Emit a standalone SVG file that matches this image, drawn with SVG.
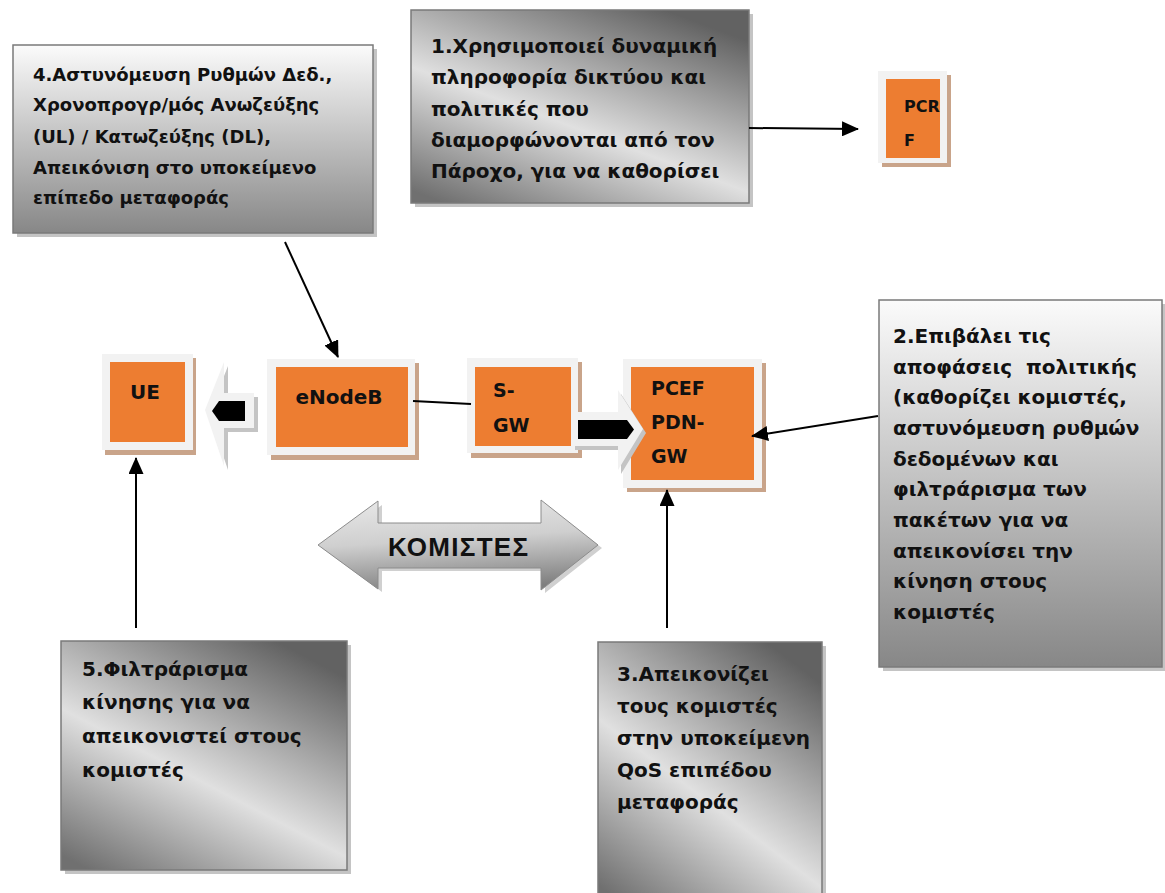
<svg xmlns="http://www.w3.org/2000/svg" width="1165" height="893" viewBox="0 0 1165 893">
  <defs>
    <style>
      .note { font-family: "DejaVu Sans", "Liberation Sans", sans-serif; font-weight: bold; fill: #111; }
      .n20 { font-size: 20px; }
      .n18 { font-size: 18px; }
      .box-border { stroke: #7a7a7a; stroke-width: 1.5; }
      .box-shadow { fill: #c4c4c4; }
      .frame { fill: #f2f2f2; }
      .frame-shadow { fill: #c9a48a; }
      .core { fill: #ed7d31; }
      .label { font-family: "DejaVu Sans", "Liberation Sans", sans-serif; font-weight: bold; fill: #111; }
      .conn { stroke: #000; stroke-width: 2; fill: none; }
      .arrowed { marker-end: url(#head); }
    </style>
    <marker id="head" markerUnits="userSpaceOnUse" markerWidth="17" markerHeight="15" refX="16" refY="7.5" orient="auto">
      <path d="M0,0 L17,7.5 L0,15 z" fill="#000"/>
    </marker>
    <!-- top light, bottom dark -->
    <linearGradient id="gVert" x1="0" y1="0" x2="0" y2="1">
      <stop offset="0" stop-color="#fbfbfb"/>
      <stop offset="1" stop-color="#878787"/>
    </linearGradient>
    <!-- light band running diagonally, dark corners bottom-left and top-right -->
    <linearGradient id="gDiag" x1="0.1" y1="1" x2="0.75" y2="0">
      <stop offset="0" stop-color="#707070"/>
      <stop offset="0.45" stop-color="#e0e0e0"/>
      <stop offset="1" stop-color="#626262"/>
    </linearGradient>
    <linearGradient id="gBar" x1="0.3" y1="0" x2="0.5" y2="1">
      <stop offset="0" stop-color="#e6e6e6"/>
      <stop offset="0.45" stop-color="#cfcfcf"/>
      <stop offset="1" stop-color="#7f7f7f"/>
    </linearGradient>
  </defs>

  <rect width="1165" height="893" fill="#fff"/>

  <!-- Note 4 -->
  <g id="note4">
    <rect class="box-shadow" x="17" y="49" width="360" height="188"/>
    <rect class="box-border" x="13" y="45" width="360" height="188" fill="url(#gVert)"/>
    <text class="note n18" x="33" y="81">4.Αστυνόμευση Ρυθμών Δεδ.,</text>
    <text class="note n18" x="33" y="111">Χρονοπρογρ/μός Ανωζεύξης</text>
    <text class="note n18" x="33" y="143">(UL) / Κατωζεύξης (DL),</text>
    <text class="note n18" x="33" y="174">Απεικόνιση στο υποκείμενο</text>
    <text class="note n18" x="33" y="204">επίπεδο μεταφοράς</text>
  </g>

  <!-- Note 1 -->
  <g id="note1">
    <rect class="box-shadow" x="415" y="14" width="338" height="193"/>
    <rect class="box-border" x="411" y="10" width="338" height="193" fill="url(#gDiag)"/>
    <text class="note n20" x="431" y="53">1.Χρησιμοποιεί δυναμική</text>
    <text class="note n20" x="431" y="84">πληροφορία δικτύου και</text>
    <text class="note n20" x="431" y="116">πολιτικές που</text>
    <text class="note n20" x="431" y="147">διαμορφώνονται από τον</text>
    <text class="note n20" x="431" y="178">Πάροχο, για να καθορίσει</text>
  </g>

  <!-- Note 2 -->
  <g id="note2">
    <rect class="box-shadow" x="883" y="304" width="283" height="367"/>
    <rect class="box-border" x="879" y="300" width="283" height="367" fill="url(#gVert)"/>
    <text class="note n20" x="893" y="343">2.Επιβάλει τις</text>
    <text class="note n20" x="893" y="374" xml:space="preserve">αποφάσεις  πολιτικής</text>
    <text class="note n20" x="893" y="404">(καθορίζει κομιστές,</text>
    <text class="note n20" x="893" y="435">αστυνόμευση ρυθμών</text>
    <text class="note n20" x="893" y="466">δεδομένων και</text>
    <text class="note n20" x="893" y="496">φιλτράρισμα των</text>
    <text class="note n20" x="893" y="527">πακέτων για να</text>
    <text class="note n20" x="893" y="558">απεικονίσει την</text>
    <text class="note n20" x="893" y="588">κίνηση στους</text>
    <text class="note n20" x="893" y="619">κομιστές</text>
  </g>

  <!-- Note 5 -->
  <g id="note5">
    <rect class="box-shadow" x="65" y="645" width="286" height="229"/>
    <rect class="box-border" x="61" y="641" width="286" height="229" fill="url(#gDiag)"/>
    <text class="note n20" x="82" y="676">5.Φιλτράρισμα</text>
    <text class="note n20" x="82" y="709">κίνησης για να</text>
    <text class="note n20" x="82" y="743">απεικονιστεί στους</text>
    <text class="note n20" x="82" y="777">κομιστές</text>
  </g>

  <!-- Note 3 -->
  <g id="note3">
    <rect class="box-shadow" x="602" y="646" width="224" height="260"/>
    <rect class="box-border" x="598" y="642" width="224" height="260" fill="url(#gDiag)"/>
    <text class="note n20" x="617" y="681">3.Απεικονίζει</text>
    <text class="note n20" x="617" y="713">τους κομιστές</text>
    <text class="note n20" x="617" y="745">στην υποκείμενη</text>
    <text class="note n20" x="617" y="777">QoS επιπέδου</text>
    <text class="note n20" x="617" y="809">μεταφοράς</text>
  </g>

  <!-- PCRF -->
  <g id="pcrf">
    <rect class="frame-shadow" x="882" y="75" width="69" height="92"/>
    <rect class="frame" x="878" y="71" width="69" height="92"/>
    <rect class="core" x="886" y="79" width="54" height="79"/>
    <text class="label" x="904" y="112" font-size="16">PCR</text>
    <text class="label" x="904" y="146" font-size="16">F</text>
  </g>

  <!-- UE -->
  <g id="ue">
    <rect class="frame-shadow" x="105" y="358" width="91" height="97"/>
    <rect class="frame" x="102" y="354" width="91" height="96"/>
    <rect class="core" x="110" y="362" width="75" height="80"/>
    <text class="label" x="145" y="399" font-size="20" text-anchor="middle">UE</text>
  </g>

  <!-- eNodeB -->
  <g id="enodeb">
    <rect class="frame-shadow" x="271" y="363" width="148" height="97"/>
    <rect class="frame" x="267" y="359" width="148" height="96"/>
    <rect class="core" x="276" y="367" width="132" height="80"/>
    <text class="label" x="339" y="404" font-size="20" text-anchor="middle">eNodeB</text>
  </g>

  <!-- S-GW -->
  <g id="sgw">
    <rect class="frame-shadow" x="471" y="362" width="111" height="96"/>
    <rect class="frame" x="467" y="358" width="111" height="95"/>
    <rect class="core" x="475" y="367" width="96" height="79"/>
    <text class="label" x="493" y="397" font-size="19">S-</text>
    <text class="label" x="493" y="432" font-size="19">GW</text>
  </g>

  <!-- PCEF / PDN-GW -->
  <g id="pcef">
    <rect class="frame-shadow" x="627" y="363" width="139" height="129"/>
    <rect class="frame" x="623" y="359" width="139" height="129"/>
    <rect class="core" x="631" y="367" width="123" height="113"/>
    <text class="label" x="651" y="395" font-size="19">PCEF</text>
    <text class="label" x="651" y="429" font-size="19">PDN-</text>
    <text class="label" x="651" y="463" font-size="19">GW</text>
  </g>

  <!-- block arrow eNodeB to UE -->
  <g id="flow-down">
    <path d="M209,414 L228,366 L228,397 L258,397 L258,432 L228,432 L228,470 z" fill="#c4c4c4"/>
    <path d="M205,410 L224,362 L224,393 L254,393 L254,428 L224,428 L224,466 z" fill="#f2f2f2"/>
    <path d="M219,401 L245,401 L245,421 L219,421 L212,411 z" fill="#000"/>
  </g>

  <!-- block arrow S-GW to PCEF -->
  <g id="flow-up">
    <path d="M575,416 L621,416 L621,394 L646,433 L621,474 L621,450 L575,450 z" fill="#c4c4c4"/>
    <path d="M572,412 L618,412 L618,390 L643,429 L618,470 L618,446 L572,446 z" fill="#f2f2f2"/>
    <path d="M578,420 L627,420 L634,429.5 L627,439 L578,439 z" fill="#000"/>
  </g>

  <!-- bearers double arrow -->
  <g id="bearers">
    <path d="M322,548 L382,505 L382,526 L545,526 L545,504 L602,548 L545,593 L545,571 L382,571 L382,592 z" fill="#d0d0d0"/>
    <path d="M318,545 L378,501 L378,523 L541,523 L541,500 L598,545 L541,590 L541,568 L378,568 L378,589 z" fill="url(#gBar)" stroke="#8c8c8c" stroke-width="1"/>
    <text x="458" y="556" font-family="Liberation Sans, Arial, sans-serif" font-weight="bold" font-size="26" text-anchor="middle" textLength="140" fill="#111">ΚΟΜΙΣΤΕΣ</text>
  </g>

  <!-- connectors -->
  <g id="connectors">
    <line class="conn arrowed" x1="749" y1="128" x2="858" y2="129"/>
    <line class="conn arrowed" x1="285" y1="242" x2="338" y2="357"/>
    <line class="conn" x1="413" y1="401" x2="471" y2="404"/>
    <line class="conn arrowed" x1="878" y1="416" x2="752" y2="436"/>
    <line class="conn arrowed" x1="667" y1="628" x2="667" y2="490"/>
    <line class="conn arrowed" x1="136" y1="628" x2="136" y2="458"/>
  </g>
</svg>
